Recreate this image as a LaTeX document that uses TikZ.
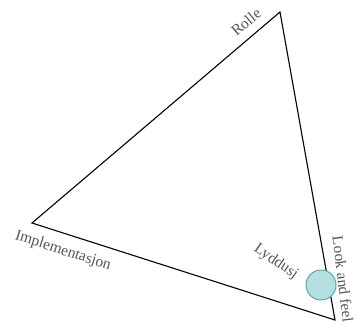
\documentclass[tikz,border=0pt]{standalone}
\usepackage{fontspec}
\setmainfont{Liberation Serif}
\definecolor{lbl}{HTML}{555555}
\definecolor{ballfill}{HTML}{B4E0E2}
\definecolor{balldraw}{HTML}{5FA8A8}
\begin{document}
\begin{tikzpicture}[x=1pt,y=-1pt,
  lab/.style={text=lbl,font=\fontsize{15.5}{15.5}\selectfont,inner sep=0pt},
  edge/.style={draw=black,line width=1.1pt,line join=miter}]
\useasboundingbox (0,0) rectangle (358,325);
\coordinate (top) at (280,12);
\coordinate (left) at (32,223);
\coordinate (br) at (335,320);
\draw[edge] (top) -- (left) -- (br) -- cycle;
\node[circle,minimum size=30pt,inner sep=0pt,fill=ballfill,draw=balldraw,line width=1pt] (ball) at (321,285) {};
\node[lab,rotate=40] (rolle) at (246,22) {Rolle};
\node[lab,rotate=-18] (impl) at (63,251) {Implementasjon};
\node[lab,rotate=-35] (lyd) at (276,262) {Lyddusj};
\node[lab,rotate=-83] (look) at (343,279) {Look and feel};
\end{tikzpicture}
\end{document}
